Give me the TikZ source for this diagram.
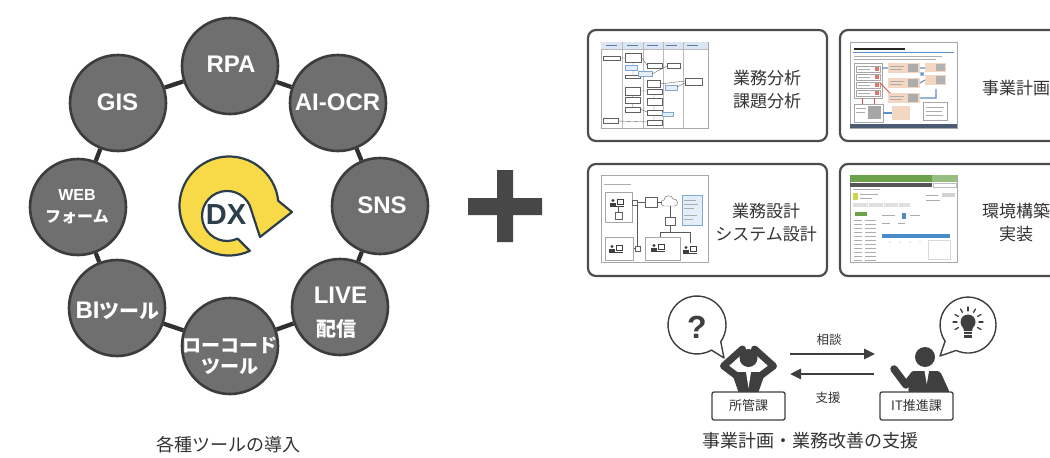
\documentclass[tikz,border=0pt]{standalone}
\usepackage{fontspec}
\setmainfont{Liberation Sans}
\newfontfamily\jp{Noto Sans CJK JP}
\usetikzlibrary{arrows.meta}

\definecolor{toolfill}{HTML}{6F6F6F}
\definecolor{toolrim}{HTML}{3C3C3C}
\definecolor{ringdark}{HTML}{303030}
\definecolor{dxyellow}{HTML}{F8DA48}
\definecolor{dxnavy}{HTML}{2C3E4C}
\definecolor{plusgray}{HTML}{474747}
\definecolor{panelrim}{HTML}{4D4D4D}
\definecolor{txt}{HTML}{333333}
\definecolor{figgray}{HTML}{3F3F3F}
\definecolor{thumbrim}{HTML}{A8A8A8}
\definecolor{hdrfill}{HTML}{DCE6F2}
\definecolor{hdrtext}{HTML}{5A7BAA}
\definecolor{lbluefill}{HTML}{E3EEF9}
\definecolor{lbluerim}{HTML}{7FA7D0}
\definecolor{peach}{HTML}{F4D7C2}
\definecolor{slideblue}{HTML}{5B8FC9}
\definecolor{slidered}{HTML}{D9534F}
\definecolor{slidebar}{HTML}{4A5A70}
\definecolor{appgreen}{HTML}{6BA34B}
\definecolor{appdark}{HTML}{555555}
\definecolor{appblue}{HTML}{4A8CC8}
\definecolor{appyellow}{HTML}{C9D84B}

\tikzset{
  userpc/.pic={
    \fill[figgray] (-3,-2.5) circle (1.7);
    \fill[figgray] (-5.6,3.5) rectangle (-0.4,0.2);
    \draw[figgray, line width=0.8pt] (1,-3.5) rectangle (7,1.2);
    \draw[figgray, line width=0.8pt] (0,3) -- (8,3);
  }
}

\begin{document}
\begin{tikzpicture}[x=1pt, y=-1pt,
  tool/.style={circle, minimum size=96pt, inner sep=0pt, fill=toolfill, draw=toolrim, line width=2.6pt},
  toollab/.style={text=white, font=\bfseries\fontsize{24}{26}\selectfont, inner sep=0pt, anchor=base},
  jplab/.style={text=white, font=\jp\bfseries\fontsize{20}{22}\selectfont, inner sep=0pt, anchor=base},
  link/.style={draw=ringdark, line width=4.3pt},
  panel/.style={draw=panelrim, line width=2.2pt, rounded corners=8pt, fill=white},
  paneltext/.style={text=txt, font=\jp\fontsize{17}{23}\selectfont, align=center, inner sep=0pt},
  thumbframe/.style={draw=thumbrim, line width=0.6pt, fill=white},
  gridln/.style={draw=gray!55, line width=0.4pt},
  hdrmark/.style={draw=hdrtext, line width=1pt},
  fcbox/.style={draw=gray!75!black, line width=0.4pt, fill=white},
  lbbox/.style={draw=lbluerim, line width=0.4pt, fill=lbluefill},
  fcline/.style={draw=gray!70!black, line width=0.35pt},
  tline/.style={draw=gray!65, line width=0.8pt},
  sbox/.style={draw=gray!70, line width=0.4pt},
  sblue/.style={draw=slideblue, line width=1.1pt},
  tagbox/.style={draw=figgray, line width=1.3pt, fill=white, minimum width=73pt, minimum height=28pt,
    rounded corners=2pt, inner sep=0pt, text=txt, font=\jp\fontsize{13}{15}\selectfont},
  flow/.style={draw=figgray, line width=2.6pt, -{Triangle[length=11pt, width=10pt]}},
  smalltext/.style={text=txt, font=\jp\fontsize{12.5}{14}\selectfont, inner sep=0pt},
  caption/.style={text=txt, font=\jp\fontsize{18}{20}\selectfont, inner sep=0pt},
  bubble/.style={draw=figgray, line width=1.4pt, fill=white, line join=round}
]
\useasboundingbox (0,0) rectangle (1050,458);
\clip (0,0) rectangle (1050,458);
\fill[white] (0,0) rectangle (1050,458);

% ---------- ring of tools ----------
\node[tool] (rpa) at (230,66) {};
\node[tool] (aiocr) at (338,103) {};
\node[tool] (sns) at (380,206) {};
\node[tool] (live) at (340,307) {};
\node[tool] (lowcode) at (230,346) {};
\node[tool] (bi) at (117,308) {};
\node[tool] (web) at (78,207) {};
\node[tool] (gis) at (118,103) {};
\foreach \a/\b in {rpa/aiocr, aiocr/sns, sns/live, live/lowcode, lowcode/bi, bi/web, web/gis, gis/rpa}
  \draw[link] (\a) -- (\b);

\node[toollab] (rpa-l) at (231,72) {RPA};
\node[toollab] (gis-l) at (117.5,110) {GIS};
\node[toollab] (aiocr-l) at (337.5,110) {AI-OCR};
\node[toollab] (sns-l) at (382,213) {SNS};
\node[toollab, font=\bfseries\fontsize{16}{18}\selectfont] (web-l1) at (77,200) {WEB};
\node[jplab, font=\jp\bfseries\fontsize{16}{18}\selectfont] (web-l2) at (77,222) {フォーム};
\node[toollab] (bi-l) at (117.5,318) {BI{\jp\fontsize{20}{22}\selectfont ツール}};
\node[toollab] (live-l1) at (340.5,303) {LIVE};
\node[jplab] (live-l2) at (336,336) {配信};
\node[jplab, font=\jp\bfseries\fontsize{19}{21}\selectfont] (low-l1) at (230,352) {ローコード};
\node[jplab, font=\jp\bfseries\fontsize{19}{21}\selectfont] (low-l2) at (230,373) {ツール};

% ---------- DX circular arrow ----------
\begin{scope}[shift={(229,206)}, yscale=-1]
  \filldraw[fill=dxyellow, draw=dxnavy, line width=2.2pt, line join=round]
    (295:49.5) arc[start angle=295, end angle=6, radius=49.5]
    -- (63,-6) -- (31,-31) -- (20.7,0.6)
    arc[start angle=25, end angle=295, radius=25] -- cycle;
\end{scope}
\node[text=dxnavy, font=\bfseries\fontsize{29}{30}\selectfont, inner sep=0pt] (dx) at (226,215) {DX};

% ---------- plus sign ----------
\fill[plusgray] (468,198) rectangle (542,215) (497,170) rectangle (513,242);

% ---------- panels ----------
\draw[panel] (588,30) rectangle (827,141);
\draw[panel] (840,30) rectangle (1064,141);
\draw[panel] (588,164) rectangle (827,276);
\draw[panel] (840,164) rectangle (1064,276);

\node[paneltext] (p1-t) at (767,90) {業務分析\\課題分析};
\node[paneltext] (p2-t) at (1016,88) {事業計画};
\node[paneltext] (p3-t) at (766,223) {業務設計\\システム設計};
\node[paneltext] (p4-t) at (1016,223) {環境構築\\実装};

% thumbnail: swimlane flowchart
\begin{scope}[shift={(601,42)}]
  \draw[thumbframe] (0,0) rectangle (107,86);
  \fill[hdrfill] (0.4,0.4) rectangle (106.6,7);
  \draw[gridln] (0,7) -- (107,7);
  \foreach \x in {21,42,62,82} \draw[gridln] (\x,0) -- (\x,86);
  \foreach \x in {5,26,46,65,86} \draw[hdrmark] (\x,3.8) -- ++(11,0);
  \foreach \a/\b/\c/\d in {2.5/14.5/19/18, 24/11/40/20, 24/33/39/36.5, 46/21/61/26, 46/38/59/45,
      66/21/79/26, 84/36/101/43, 46/47/61/52, 24/45/39/53, 24/55/39/61, 24/65/39/70,
      46/56/61/63, 46/68/61/73, 2/76/17/81, 46/78/61/83}
    \draw[fcbox] (\a,\b) rectangle (\c,\d);
  \foreach \a/\b/\c/\d in {24/23/36/28, 37/29.5/51/34.5, 64/43/76/48, 61/70/72/74}
    \draw[lbbox] (\a,\b) rectangle (\c,\d);
  \draw[fcline] (19,16) -- (24,16) (40,15) -- (46,23) (32,20) -- (32,23) (32,28) -- (32,33)
    (51,32) -- (66,24) (59,42) -- (84,39) (39,49) -- (46,49) (31.5,53) -- (31.5,55)
    (31.5,61) -- (31.5,65) (53,52) -- (53,56) (53,63) -- (53,68) (17,79) -- (46,80)
    (53,73) -- (53,78) (39,67) -- (46,70) (76,45) -- (84,41);
\end{scope}

% thumbnail: planning slide
\begin{scope}[shift={(850,42)}]
  \draw[thumbframe] (0,0) rectangle (107,86);
  \draw[draw=gray!30!black, line width=1.5pt] (4,7) -- (55,7);
  \draw[slideblue, line width=0.5pt] (3,10.5) -- (104,10.5);
  \draw[tline] (4,14.5) -- (92,14.5) (4,17.5) -- (86,17.5);
  \draw[sbox] (4,21) rectangle (32,56);
  \foreach \y in {24,32,40,48} {
    \draw[sbox] (6,\y) rectangle (30,\y+6);
    \fill[slidered!80] (25,\y+1) rectangle (29,\y+5);
    \draw[tline] (8,\y+3) -- (20,\y+3);
  }
  \foreach \y in {21,36,51} {
    \fill[peach] (38,\y) rectangle (70,\y+10);
    \fill[gray!65] (58,\y+1) rectangle (68,\y+9);
    \draw[tline] (40,\y+3) -- (54,\y+3) (40,\y+6) -- (52,\y+6);
  }
  \fill[peach] (75,21) rectangle (96,30);
  \fill[gray!60] (86,22) rectangle (95,29);
  \fill[peach] (75,33) rectangle (96,43);
  \fill[gray!60] (86,34) rectangle (95,42);
  \draw[sblue] (32,26) -- (38,26) (70,26) -- (75,26) (70,41) -- (75,38)
    (70,56) -- (86,56) -- (86,47) (70.5,30.5) -- (73.5,33.5) (73.5,30.5) -- (70.5,33.5);
  \draw[slidered, line width=1pt] (30,41) -- (40,51);
  \draw[slidered, line width=0.8pt] (12,56) -- (12,62) (24,56) -- (24,62);
  \draw[sbox] (4,62) rectangle (33,80);
  \fill[gray!70] (18,64) rectangle (31,77);
  \draw[tline] (6,66) -- (16,66) (6,70) -- (15,70);
  \fill[peach] (42,64) rectangle (60,78);
  \draw[sblue] (33,71) -- (42,71);
  \draw[sbox] (73,60) rectangle (97,78);
  \draw[tline] (76,65) -- (94,65) (76,69) -- (92,69) (76,73) -- (93,73);
  \fill[slidebar] (0.3,82) rectangle (106.7,85.7);
\end{scope}

% thumbnail: system diagram
\begin{scope}[shift={(601,175)}]
  \draw[thumbframe] (0,0) rectangle (107,87);
  \draw[tline] (3,9.5) -- (30,9.5);
  \draw[sbox] (4,17) rectangle (31,47);
  \pic at (15,28) {userpc};
  \draw[fcbox] (14,37) rectangle (21,44);
  \draw[fcline] (17.5,31) -- (17.5,37);
  \draw[fcbox] (31,25) rectangle (36,30);
  \draw[fcbox] (44,22) rectangle (56,32);
  \draw[fcbox] (63,31) .. controls (59,31) and (59,25) .. (63,25)
    .. controls (63,20) and (71,19) .. (72,24) .. controls (77,23) and (78,31) .. (74,31) -- cycle;
  \draw[fcline] (36,27.5) -- (44,27.5) (56,27) -- (61,27) (69,31) -- (69,42)
    (69,50) -- (69,57) (59,57) -- (89,57) (59,57) -- (59,62) (89,57) -- (89,68)
    (36.5,30) -- (36.5,71) (32,73.5) -- (34,73.5);
  \draw[fcbox] (64,42) rectangle (74,50);
  \draw[fcbox] (34,71) rectangle (39,76);
  \draw[lbbox] (81,20) rectangle (101,50);
  \draw[tline] (83,25) -- (95,25) (83,29) -- (97,29) (83,33) -- (93,33) (83,40) -- (96,40) (83,44) -- (92,44);
  \draw[sbox] (4,62) rectangle (32,85);
  \pic at (14,74) {userpc};
  \draw[sbox] (44,62) rectangle (79,85);
  \pic at (56,73) {userpc};
  \pic at (88,75) {userpc};
\end{scope}

% thumbnail: web application screen
\begin{scope}[shift={(850,175)}]
  \draw[thumbframe] (0,0) rectangle (107,87);
  \fill[appgreen] (0.4,0.4) rectangle (106.6,6.5);
  \fill[appgreen!70] (82,0.4) rectangle (106.6,6.5);
  \fill[appdark] (0.4,7.5) rectangle (82,11.5);
  \draw[gray!50, line width=0.4pt] (83,8) rectangle (106,12);
  \draw[tline] (3,14.5) -- (30,14.5);
  \fill[appyellow] (3,18) rectangle (8,25);
  \draw[tline] (10,19.5) -- (28,19.5) (10,23) -- (22,23);
  \fill[gray!35] (92,18) rectangle (105,22);
  \draw[tline] (76,20) -- (88,20) (76,25) -- (90,25);
  \fill[gray!25] (3,28) rectangle (60,32);
  \foreach \x in {18,33,48} \draw[white, line width=0.6pt] (\x,28) -- (\x,32);
  \fill[appgreen] (5,37) rectangle (17,41);
  \foreach \y in {45,49,...,85} \draw[tline] (4,\y) -- (12,\y) (15,\y) -- (26,\y);
  \draw[tline] (32,40) -- (45,40) (60,40) -- (70,40) (32,48) -- (40,48) (48,48) -- (55,48);
  \fill[appblue] (52,38) rectangle (56,44);
  \fill[appblue] (32,59) rectangle (100,63);
  \foreach \x in {40,50,60,70} \fill[gray!55] (\x,67) circle (0.7);
  \draw[gray!30, line width=0.4pt] (78,65) rectangle (100,84);
\end{scope}

% ---------- consultation scene ----------
% question bubble
\draw[bubble] (711.5,350.1) arc[start angle=60, end angle=395, radius=29] -- (724,358) -- cycle;
\node[text=figgray, font=\bfseries\fontsize{32}{34}\selectfont, inner sep=0pt] (qmark) at (697,327) {?};

% troubled person, hands on head
\begin{scope}[shift={(748.5,358)}]
  \fill[figgray] (0,0) circle (9);
  \draw[figgray, line width=7pt, line join=round, line cap=round] (-6,-9) -- (-25,8) -- (-13,17);
  \draw[figgray, line width=7pt, line join=round, line cap=round] (6,-9) -- (25,8) -- (13,17);
  \fill[figgray] (-17,14) -- (17,14) -- (10,34) -- (-10,34) -- cycle;
  \fill[white] (-2.5,14) -- (2.5,14) -- (0,30) -- cycle;
\end{scope}

% idea bubble with light bulb
\draw[bubble] (945.1,341.1) arc[start angle=145, end angle=475, radius=28] -- (940,356) -- cycle;
\begin{scope}[shift={(968,322)}]
  \fill[figgray] (0,0) circle (7.5);
  \fill[figgray] (-5.5,3) -- (5.5,3) -- (4,9) -- (-4,9) -- cycle;
  \fill[figgray] (-3.8,9.8) rectangle (3.8,15.5);
  \draw[white, line width=0.7pt] (-3.8,12.6) -- (3.8,12.6);
  \foreach \a in {150,180,...,390}
    \draw[figgray, line width=1.3pt, line cap=round] (\a:11) -- (\a:15);
\end{scope}

% presenting person
\begin{scope}[shift={(925,357)}]
  \fill[figgray] (0,0) circle (10);
  \fill[figgray, rounded corners=3pt] (-14,14) -- (15,14) -- (25,36) -- (-17,36) -- cycle;
  \draw[figgray, line width=7.5pt, line cap=round, line join=round] (-11,18) -- (-19,28) -- (-31,12);
  \fill[white] (-0.5,14) -- (4,14) -- (1.8,27) -- cycle;
\end{scope}

\node[tagbox] (shokan) at (748.5,406) {所管課};
\node[tagbox] (itdept) at (916.5,406) {IT推進課};

\coordinate (consult-from) at (790,354);
\coordinate (consult-to) at (875,354);
\coordinate (support-from) at (874,374);
\coordinate (support-to) at (790,374);
\draw[flow] (consult-from) -- (consult-to);
\draw[flow] (support-from) -- (support-to);
\node[smalltext] (sodan) at (829,340) {相談};
\node[smalltext] (shien) at (828,398) {支援};

% ---------- captions ----------
\node[caption] (cap-l) at (228,445) {各種ツールの導入};
\node[caption] (cap-r) at (810,441) {事業計画・業務改善の支援};
\end{tikzpicture}
\end{document}
